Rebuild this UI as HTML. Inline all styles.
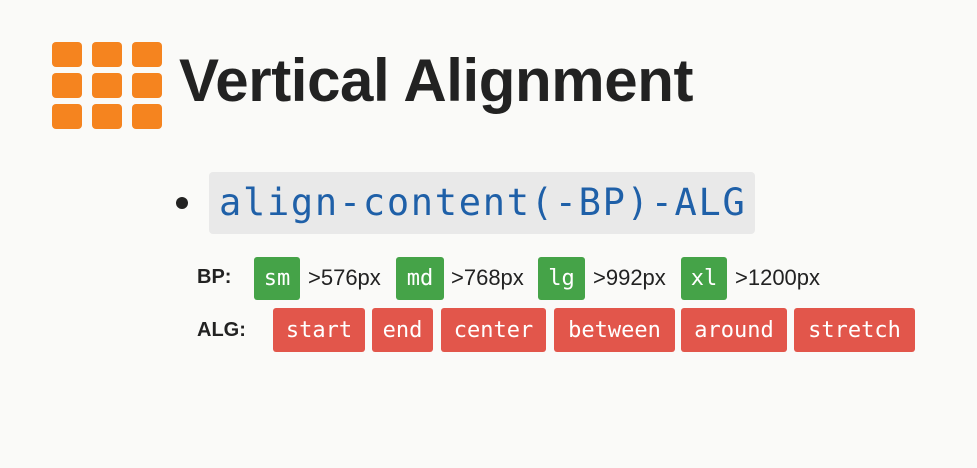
<!DOCTYPE html>
<html><head><style>
body{margin:0;width:977px;height:468px;background:#fafaf8;position:relative;overflow:hidden;font-family:"Liberation Sans",sans-serif}
.a{position:absolute}
.sq{position:absolute;width:30px;height:25px;background:#f5841f;border-radius:4px}
.b{position:absolute;display:flex;align-items:center;justify-content:center;color:#fff;font-family:"DejaVu Sans Mono",monospace;font-size:22px;border-radius:3px}
.g{background:#45a348;top:257px;height:43px}
.r{background:#e2564b;top:308px;height:44px}
.t{position:absolute;top:265px;font-size:22px;color:#222}
</style></head><body>
<div class="sq" style="left:52px;top:42px"></div><div class="sq" style="left:92px;top:42px"></div><div class="sq" style="left:132px;top:42px"></div>
<div class="sq" style="left:52px;top:73px"></div><div class="sq" style="left:92px;top:73px"></div><div class="sq" style="left:132px;top:73px"></div>
<div class="sq" style="left:52px;top:104px"></div><div class="sq" style="left:92px;top:104px"></div><div class="sq" style="left:132px;top:104px"></div>
<div class="a" style="left:179px;top:46px;font-size:60px;font-weight:bold;color:#222;letter-spacing:-0.4px;white-space:nowrap">Vertical Alignment</div>
<div class="a" style="left:176px;top:197px;width:12px;height:12px;border-radius:50%;background:#222"></div>
<div class="a" style="left:209px;top:172px;width:546px;height:62px;background:#e9e9e9;border-radius:4px"></div>
<div class="a" style="left:219px;top:181px;font-family:'DejaVu Sans Mono',monospace;font-size:37px;letter-spacing:1.7px;color:#1f60a8;white-space:nowrap">align-content(-BP)-ALG</div>
<div class="a" style="left:197px;top:266px;font-size:20px;font-weight:bold;color:#222">BP:</div>
<div class="b g" style="left:254px;width:46px">sm</div><div class="t" style="left:308px">&gt;576px</div>
<div class="b g" style="left:396px;width:48px">md</div><div class="t" style="left:451px">&gt;768px</div>
<div class="b g" style="left:538px;width:47px">lg</div><div class="t" style="left:593px">&gt;992px</div>
<div class="b g" style="left:681px;width:46px">xl</div><div class="t" style="left:735px">&gt;1200px</div>
<div class="a" style="left:197px;top:319px;font-size:20px;font-weight:bold;color:#222">ALG:</div>
<div class="b r" style="left:273px;width:92px">start</div>
<div class="b r" style="left:372px;width:61px">end</div>
<div class="b r" style="left:441px;width:105px">center</div>
<div class="b r" style="left:554px;width:121px">between</div>
<div class="b r" style="left:681px;width:106px">around</div>
<div class="b r" style="left:794px;width:121px">stretch</div>
</body></html>
